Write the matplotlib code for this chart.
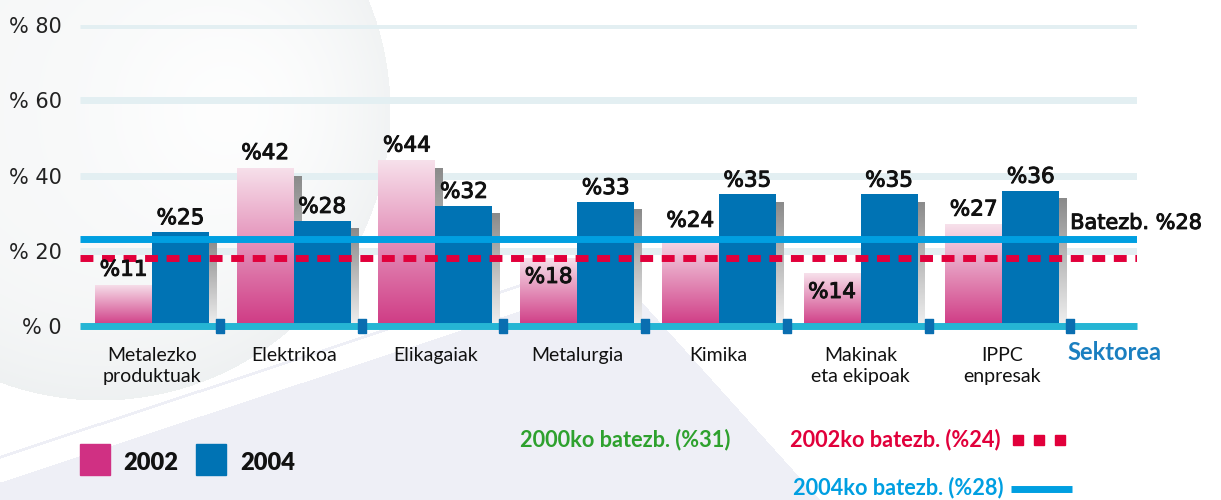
import numpy as np
import matplotlib
matplotlib.use("Agg")
import matplotlib.pyplot as plt
import matplotlib.patheffects as pe
from matplotlib.colors import to_rgb
from matplotlib.lines import Line2D

# ── data ──────────────────────────────────────────────────────────────────────
sectors = ["Metalezko\nproduktuak", "Elektrikoa", "Elikagaiak", "Metalurgia",
           "Kimika", "Makinak\neta ekipoak", "IPPC\nenpresak"]
values_2002 = [11, 42, 44, 18, 24, 14, 27]
values_2004 = [25, 28, 32, 33, 35, 35, 36]
label_inside_2002 = [False, False, False, True, False, True, False]
y_ticks = [0, 20, 40, 60, 80]
y_tick_labels = ["% 0", "% 20", "% 40", "% 60", "% 80"]
avg_2004_level = 23      # drawn height of the solid blue average line
avg_2002_level = 18      # drawn height of the dashed red average line

PINK_TOP, PINK_BOT = "#f7e1eb", "#cf3a84"
BLUE = "#0073b4"
GRID = "#e3eff2"
AXIS_CYAN = "#25b5d4"
LINE_BLUE = "#009fe1"
LINE_RED = "#e1003b"
W_PX, H_PX = 1221, 500


def px(x, y):
    return x / W_PX, 1 - y / H_PX


def gradient_fill(ax, bar, c_top, c_bot, z):
    x0, y0 = bar.get_xy()
    w, h = bar.get_width(), bar.get_height()
    t = np.linspace(0, 1, 256)[:, None, None]
    img = np.array(to_rgb(c_top)) * (1 - t) + np.array(to_rgb(c_bot)) * t
    im = ax.imshow(img, extent=[x0, x0 + w, y0, y0 + h], aspect="auto",
                   origin="upper", zorder=z, interpolation="bilinear")
    im.set_clip_path(bar)


fig = plt.figure(figsize=(12.21, 5.0), dpi=100)

# ── background: pale sphere top-left, lavender wash bottom-left ──────────────
bg_ax = fig.add_axes([0, 0, 1, 1], zorder=-10)
yy, xx = np.mgrid[0:H_PX, 0:W_PX].astype(float)
bg = np.ones((H_PX, W_PX, 3))
r = np.hypot(xx - 100, yy - 110) / 290
rim = np.where(r < 1, 0.03 + 0.035 * np.clip(r, 0, 1) ** 4, 0.0)
hl = np.exp(-((xx - 230) ** 2 + (yy - 110) ** 2) / (2 * 90 ** 2))
rim = rim * (1 - 0.8 * hl)
bg -= rim[..., None] * np.array([1.0, 0.85, 0.8])
low = (yy > 455 - 0.33 * xx) & (xx < 640 + 0.9 * (yy - 300))
band = np.abs(yy - (470 - 0.33 * xx)) < 12
bg[low & ~band] -= np.array([0.065, 0.06, 0.035])
bg = np.clip(bg, 0, 1)
bg_ax.imshow(bg, aspect="auto", interpolation="bilinear")
bg_ax.axis("off")

# ── main axes ─────────────────────────────────────────────────────────────────
pitch = 141.7
ax = fig.add_axes([80 / W_PX, (H_PX - 326) / H_PX, 1057 / W_PX, 301 / H_PX])
ax.patch.set_alpha(0)
x = np.arange(len(sectors))
bw = 57 / pitch
dx = 8 / pitch
dy = 2.0

for lvl in y_ticks[1:]:
    ax.axhline(lvl, color=GRID, lw=5, zorder=0, solid_capstyle="butt")

sh_p = ax.bar(x - bw / 2 + dx, np.array(values_2002) - dy, width=bw,
              color="none", lw=0, zorder=1)
sh_b = ax.bar(x + bw / 2 + dx, np.array(values_2004) - dy, width=bw,
              color="none", lw=0, zorder=1)
for b in list(sh_p) + list(sh_b):
    gradient_fill(ax, b, "#8a8a8a", "#f0f0f0", 1)

bars_p = ax.bar(x - bw / 2, values_2002, width=bw, color="none", lw=0, zorder=2)
for b in bars_p:
    gradient_fill(ax, b, PINK_TOP, PINK_BOT, 2)
bars_b = ax.bar(x + bw / 2, values_2004, width=bw, color=BLUE, lw=0, zorder=3)

thick = [pe.withStroke(linewidth=0.7, foreground="#111111")]
lab_kw = dict(ha="center", fontsize=15.5, color="#111111", zorder=6,
              family="DejaVu Sans", path_effects=thick)
for xi, v, inside in zip(x, values_2002, label_inside_2002):
    if inside:
        ax.text(xi - bw / 2, v - 2.3, f"%{v}", va="top", **lab_kw)
    else:
        ax.text(xi - bw / 2, v + 1.3, f"%{v}", va="bottom", **lab_kw)
for xi, v in zip(x, values_2004):
    ax.text(xi + bw / 2, v + 1.0, f"%{v}", va="bottom", **lab_kw)

# average lines
ax.axhline(avg_2004_level, color=LINE_BLUE, lw=5, zorder=4, solid_capstyle="butt")
ax.axhline(avg_2002_level, color=LINE_RED, lw=5, zorder=4,
           dashes=(13 / 7, 8.7 / 7), dash_capstyle="butt")
ax.text(6.48, 27.4, "Batezb. %28", ha="left", va="center", fontsize=15,
        color="#111111", family="DejaVu Sans", path_effects=thick, clip_on=False)

# base axis line with small separators
ax.axhline(0, color=AXIS_CYAN, lw=5, zorder=5, solid_capstyle="butt", clip_on=False)
rect_marker = [(-0.3, -0.5), (0.3, -0.5), (0.3, 0.5), (-0.3, 0.5), (-0.3, -0.5)]
ax.plot(x + 0.48, np.zeros(len(x)), ls="none", marker=rect_marker,
        markersize=10, color="#0a6eb0", zorder=6, clip_on=False)

ax.set_xlim(-72 / pitch, 985 / pitch)
ax.set_ylim(0, 80)
ax.set_yticks(y_ticks)
ax.set_yticklabels(y_tick_labels, fontsize=15, family="DejaVu Sans", color="#222222")
ax.set_xticks(x)
ax.set_xticklabels(sectors, fontsize=14, family="Lato", color="#111111",
                   linespacing=1.3, va="top")
ax.tick_params(axis="y", length=0, pad=13)
ax.tick_params(axis="x", length=0, pad=15)
for s in ax.spines.values():
    s.set_visible(False)

# ── outside texts and legends ────────────────────────────────────────────────
fig.text(*px(1114, 352), "Sektorea", ha="center", va="center", fontsize=17,
         fontweight="bold", color="#1a7fc0", family="Lato")

fig.patches.append(plt.Rectangle(px(80, 475), 30 / W_PX, 31 / H_PX,
                                 transform=fig.transFigure, color="#d03083"))
fig.patches.append(plt.Rectangle(px(196, 475), 30 / W_PX, 31 / H_PX,
                                 transform=fig.transFigure, color=BLUE))
fig.text(*px(123, 463), "2002", ha="left", va="center", fontsize=17,
         fontweight="heavy", color="#111111", family="Lato")
fig.text(*px(240, 463), "2004", ha="left", va="center", fontsize=17,
         fontweight="heavy", color="#111111", family="Lato")

leg_kw = dict(ha="left", va="center", fontsize=15.7, fontweight="bold",
              family="Lato")
fig.text(*px(520, 440), "2000ko batezb. (%31)", color="#2ea12e", **leg_kw)
fig.text(*px(790, 440), "2002ko batezb. (%24)", color=LINE_RED, **leg_kw)
fig.text(*px(793, 488), "2004ko batezb. (%28)", color=LINE_BLUE, **leg_kw)
fig.lines.append(Line2D([px(1018, 0)[0], px(1039, 0)[0], px(1060, 0)[0]],
                        [px(0, 440)[1]] * 3, transform=fig.transFigure,
                        ls="none", marker="s", markersize=6.5, color=LINE_RED))
fig.lines.append(Line2D([px(1011, 0)[0], px(1072, 0)[0]], [px(0, 489)[1]] * 2,
                        transform=fig.transFigure, lw=5, color=LINE_BLUE,
                        solid_capstyle="butt"))

fig.savefig("out.png", dpi=100)
